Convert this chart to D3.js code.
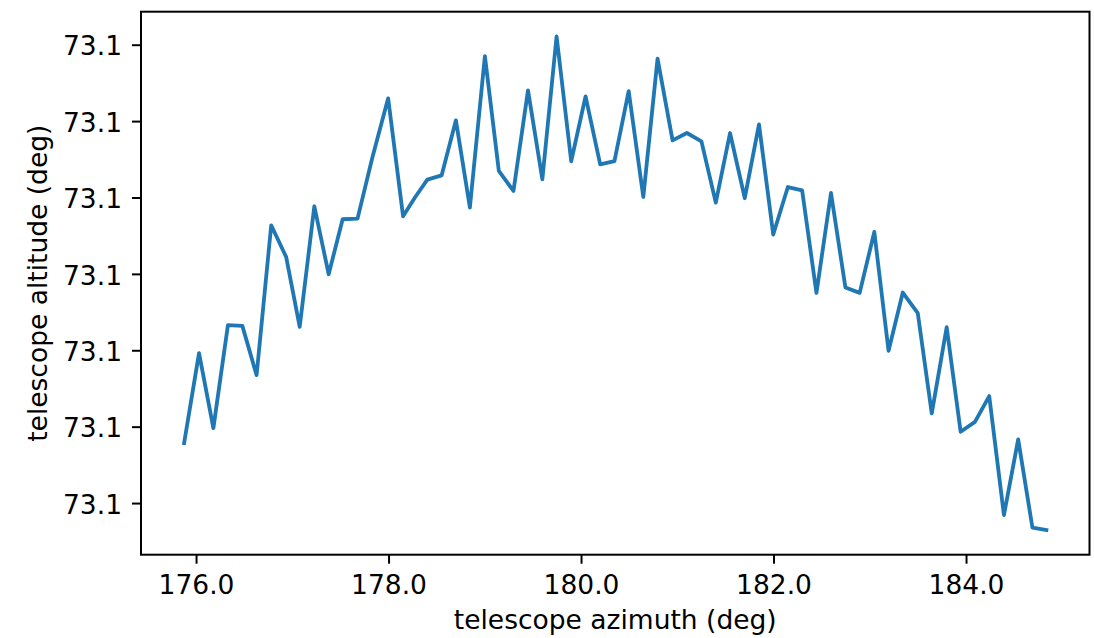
<!DOCTYPE html>
<html>
<head>
<meta charset="utf-8">
<script src="https://cdn.jsdelivr.net/npm/d3@7"></script>
<style>
  html, body { margin: 0; padding: 0; background: #ffffff; }
  svg { display: block; }
  text { font-family: "DejaVu Sans", sans-serif; fill: #000; }
</style>
</head>
<body>
<svg id="chart" width="1094" height="638"></svg>
<script>
// ---- data ----
const azimuth = [
  175.876, 176.031, 176.180, 176.331, 176.481, 176.629, 176.781, 176.936, 177.077, 177.229,
  177.378, 177.523, 177.678, 177.830, 177.996, 178.151, 178.276, 178.403, 178.552, 178.700,
  178.845, 179.001, 179.146, 179.298, 179.449, 179.598, 179.746, 179.898, 180.047, 180.199,
  180.347, 180.495, 180.647, 180.795, 180.951, 181.100, 181.251, 181.400, 181.548, 181.701,
  181.849, 181.997, 182.149, 182.297, 182.446, 182.597, 182.747, 182.895, 183.047, 183.195,
  183.343, 183.499, 183.644, 183.799, 183.944, 184.093, 184.241, 184.394, 184.542, 184.690,
  184.835
];
const altitude = [
  73.1000785, 73.1001962, 73.1000981, 73.1002328, 73.1002319, 73.1001674, 73.1003636, 73.1003222, 73.1002306, 73.1003885,
  73.1002995, 73.1003715, 73.1003724, 73.1004513, 73.1005298, 73.1003754, 73.1004003, 73.1004234, 73.1004290, 73.1005010,
  73.1003868, 73.1005851, 73.1004347, 73.1004085, 73.1005402, 73.1004238, 73.1006109, 73.1004474, 73.1005324, 73.1004434,
  73.1004477, 73.1005393, 73.1004007, 73.1005817, 73.1004748, 73.1004844, 73.1004735, 73.1003933, 73.1004844, 73.1003993,
  73.1004957, 73.1003515, 73.1004137, 73.1004094, 73.1002751, 73.1004059, 73.1002821, 73.1002751, 73.1003549, 73.1001992,
  73.1002756, 73.1002485, 73.1001173, 73.1002302, 73.1000933, 73.1001063, 73.1001400, 73.0999843, 73.1000833, 73.0999677,
  73.0999647
];
const xTicks = [176, 178, 180, 182, 184];
const yTicks = [73.1000, 73.1001, 73.1002, 73.1003, 73.1004, 73.1005, 73.1006];
const xLabel = "telescope azimuth (deg)";
const yLabel = "telescope altitude (deg)";

// ---- layout ----
const W = 1094, H = 638;
const L = 141, R = 1089.5, T = 11.7, B = 554.7;
const FS = 26.5;        // font size px
const tickLen = 9, tickPad = 9;

const svg = d3.select("#chart");

function padded(arr) {
  const [a, b] = d3.extent(arr);
  const p = (b - a) * 0.05;
  return [a - p, b + p];
}

const x = d3.scaleLinear().domain(padded(azimuth)).range([L, R]);
const y = d3.scaleLinear().domain(padded(altitude)).range([B, T]);

const fmt = d3.format(".1f");

// line
const pts = azimuth.map((a, i) => [a, altitude[i]]);
svg.append("path")
  .datum(pts)
  .attr("fill", "none")
  .attr("stroke", "#1f77b4")
  .attr("stroke-width", 3.8)
  .attr("stroke-linejoin", "round")
  .attr("stroke-linecap", "square")
  .attr("d", d3.line().x(d => x(d[0])).y(d => y(d[1])));

// x axis
const xAxis = d3.axisBottom(x).tickValues(xTicks).tickFormat(fmt)
  .tickSize(tickLen).tickPadding(tickPad).tickSizeOuter(0);
const gx = svg.append("g").attr("transform", `translate(0,${B})`).call(xAxis);
gx.select(".domain").remove();
gx.selectAll(".tick line").attr("stroke", "#000").attr("stroke-width", 2);
gx.selectAll(".tick text")
  .attr("font-family", "DejaVu Sans")
  .attr("font-size", FS)
  .attr("fill", "#000")
  .attr("dy", null)
  .attr("y", 39.5);

// y axis
const yAxis = d3.axisLeft(y).tickValues(yTicks).tickFormat(fmt)
  .tickSize(tickLen).tickPadding(tickPad).tickSizeOuter(0);
const gy = svg.append("g").attr("transform", `translate(${L},0)`).call(yAxis);
gy.select(".domain").remove();
gy.selectAll(".tick line").attr("stroke", "#000").attr("stroke-width", 2);
gy.selectAll(".tick text")
  .attr("font-family", "DejaVu Sans")
  .attr("font-size", FS)
  .attr("fill", "#000")
  .attr("dy", null)
  .attr("y", 10.2)
  .attr("x", -(tickLen + tickPad + 1));

// frame
svg.append("rect")
  .attr("x", L).attr("y", T)
  .attr("width", R - L).attr("height", B - T)
  .attr("fill", "none")
  .attr("stroke", "#000")
  .attr("stroke-width", 2);

// axis labels
svg.append("text")
  .attr("x", (L + R) / 2)
  .attr("y", 629)
  .attr("text-anchor", "middle")
  .attr("font-size", FS)
  .text(xLabel);

svg.append("text")
  .attr("transform", `translate(47,${(T + B) / 2}) rotate(-90)`)
  .attr("text-anchor", "middle")
  .attr("font-size", FS)
  .text(yLabel);
</script>
</body>
</html>
